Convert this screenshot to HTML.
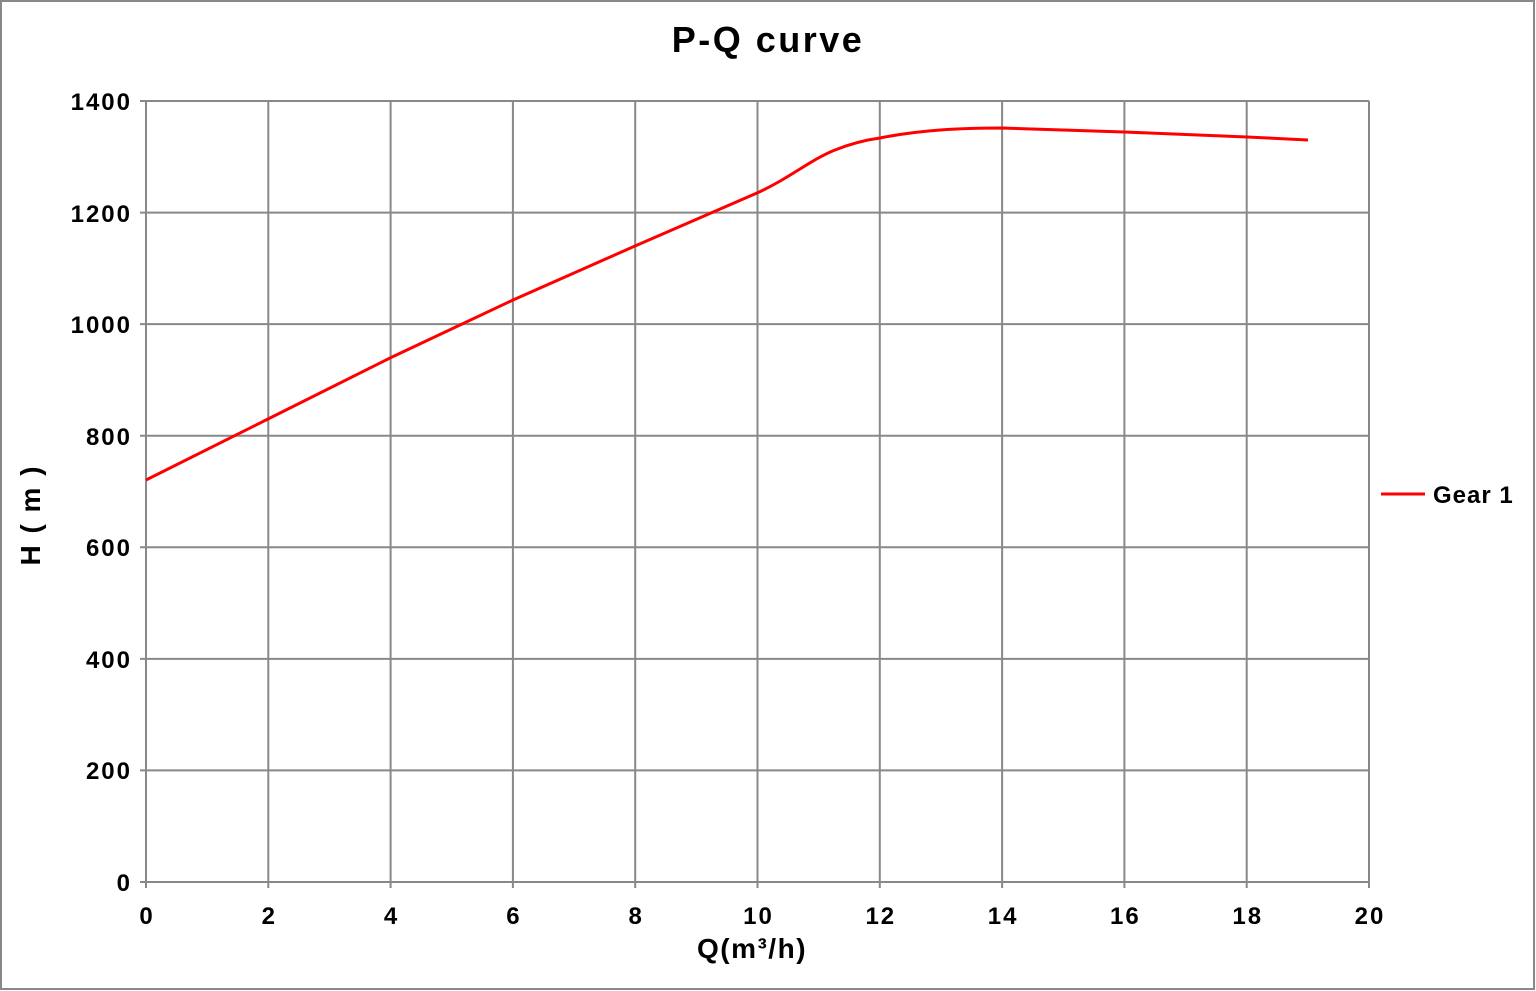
<!DOCTYPE html>
<html><head><meta charset="utf-8"><style>
html,body{margin:0;padding:0;background:#fff;}
svg{display:block;font-family:"Liberation Sans",sans-serif;font-weight:bold;}
</style></head><body>
<svg width="1536" height="991" viewBox="0 0 1536 991">
<rect x="1" y="1" width="1533" height="988" fill="#fff" stroke="#888" stroke-width="2"/>
<g stroke="#888" stroke-width="2">
<line x1="146" y1="101" x2="146" y2="888"/><line x1="268.3" y1="101" x2="268.3" y2="888"/><line x1="390.6" y1="101" x2="390.6" y2="888"/><line x1="512.9" y1="101" x2="512.9" y2="888"/><line x1="635.2" y1="101" x2="635.2" y2="888"/><line x1="757.5" y1="101" x2="757.5" y2="888"/><line x1="879.8" y1="101" x2="879.8" y2="888"/><line x1="1002.1" y1="101" x2="1002.1" y2="888"/><line x1="1124.4" y1="101" x2="1124.4" y2="888"/><line x1="1246.7" y1="101" x2="1246.7" y2="888"/><line x1="1369" y1="101" x2="1369" y2="888"/>
<line x1="140" y1="882" x2="1369" y2="882"/><line x1="140" y1="770.4" x2="1369" y2="770.4"/><line x1="140" y1="658.9" x2="1369" y2="658.9"/><line x1="140" y1="547.3" x2="1369" y2="547.3"/><line x1="140" y1="435.7" x2="1369" y2="435.7"/><line x1="140" y1="324.1" x2="1369" y2="324.1"/><line x1="140" y1="212.6" x2="1369" y2="212.6"/><line x1="140" y1="101" x2="1369" y2="101"/>
</g>
<g font-size="24" letter-spacing="2" text-anchor="end" fill="#000">
<text x="132" y="891">0</text><text x="132" y="779">200</text><text x="132" y="668">400</text><text x="132" y="556">600</text><text x="132" y="445">800</text><text x="132" y="333">1000</text><text x="132" y="222">1200</text><text x="132" y="110">1400</text>
</g>
<g font-size="24" text-anchor="middle" fill="#000">
<g letter-spacing="2">
<text x="147" y="924">0</text><text x="269.3" y="924">2</text><text x="391.6" y="924">4</text><text x="513.9" y="924">6</text><text x="636.2" y="924">8</text><text x="758.5" y="924">10</text><text x="880.8" y="924">12</text><text x="1003.1" y="924">14</text><text x="1125.4" y="924">16</text><text x="1247.7" y="924">18</text><text x="1370" y="924">20</text>
</g>
<text x="752" y="958" font-size="28" letter-spacing="1.5">Q(m³/h)</text>
<text x="768" y="52" font-size="36" letter-spacing="2.5">P-Q  curve</text>
<text transform="translate(40,515) rotate(-90)" font-size="28" letter-spacing="2">H ( m )</text>
</g>
<path d="M146,480 L268,419 L390,358 L513,300 L635,246 L757,193 C790,178 810,160 835,150 C850,144 865,140 880,138 C920,130 960,128 1002,128 L1124,132 L1247,137 L1308,140" fill="none" stroke="#f00" stroke-width="3"/>
<line x1="1381" y1="494" x2="1425" y2="494" stroke="#f00" stroke-width="3"/>
<text x="1433" y="503" font-size="24" letter-spacing="1" fill="#000">Gear 1</text>
</svg>
</body></html>
